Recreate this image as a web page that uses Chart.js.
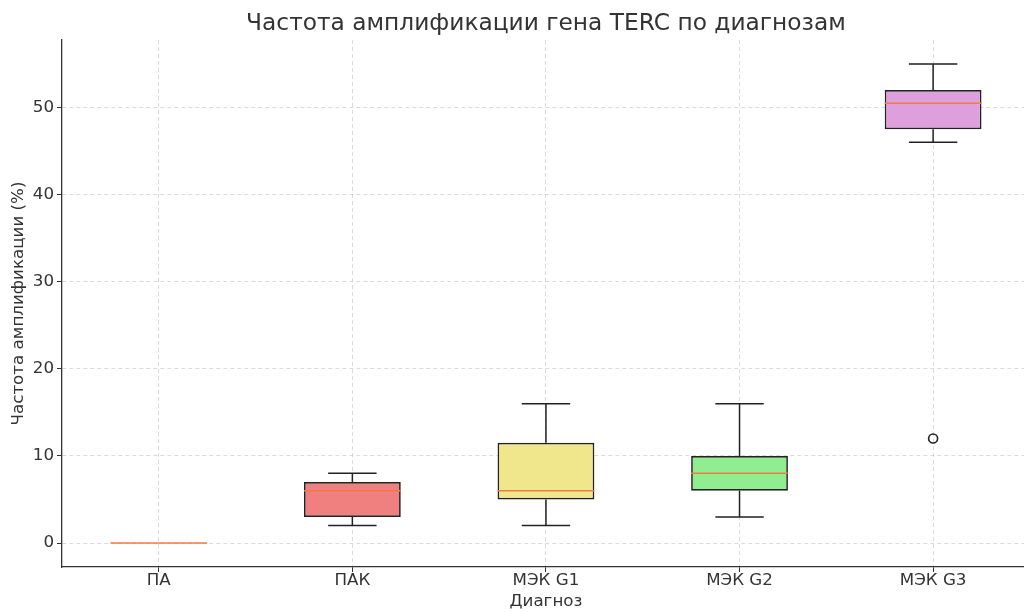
<!DOCTYPE html>
<html>
<head>
<meta charset="utf-8">
<script src="https://cdn.jsdelivr.net/npm/chart.js@4.4.1/dist/chart.umd.min.js"></script>
<style>
  html, body { margin: 0; padding: 0; background: #fff; overflow: hidden; }
  #chart { display: block; }
</style>
</head>
<body>
<canvas id="chart" width="1036" height="612"></canvas>
<script>
const diagnoses = ["ПА", "ПАК", "МЭК G1", "МЭК G2", "МЭК G3"];
const whiskerLow = [0, 2, 2, 3, 46];
const q1 = [0, 3, 5, 6, 47.5];
const medians = [0, 6, 6, 8, 50.5];
const q3 = [0, 7, 11.5, 10, 52];
const whiskerHigh = [0, 8, 16, 16, 55];
const outliers = [null, null, null, null, 12];
const boxColors = ["#ffffff", "#f08080", "#f0e68c", "#90ee90", "#dda0dd"];
const yTicks = [0, 10, 20, 30, 40, 50];

const FONT = "'DejaVu Sans', sans-serif";
const TEXT = "#333333";
const MEDIAN = "#f07a45";

// whiskers + medians on top of the boxes
const boxExtras = {
  id: "boxExtras",
  afterDatasetsDraw(chart) {
    const ctx = chart.ctx;
    const x = chart.scales.x;
    const y = chart.scales.y;
    const bars = chart.getDatasetMeta(0).data;
    ctx.save();
    ctx.lineWidth = 1.5;
    diagnoses.forEach((d, i) => {
      const cx = x.getPixelForValue(i);
      const w = bars[i].width;
      const cap = w / 4;
      if (whiskerHigh[i] !== q3[i] || whiskerLow[i] !== q1[i]) {
        ctx.strokeStyle = "#222";
        ctx.beginPath();
        ctx.moveTo(cx, y.getPixelForValue(q3[i]));
        ctx.lineTo(cx, y.getPixelForValue(whiskerHigh[i]));
        ctx.moveTo(cx - cap, y.getPixelForValue(whiskerHigh[i]));
        ctx.lineTo(cx + cap, y.getPixelForValue(whiskerHigh[i]));
        ctx.moveTo(cx, y.getPixelForValue(q1[i]));
        ctx.lineTo(cx, y.getPixelForValue(whiskerLow[i]));
        ctx.moveTo(cx - cap, y.getPixelForValue(whiskerLow[i]));
        ctx.lineTo(cx + cap, y.getPixelForValue(whiskerLow[i]));
        ctx.stroke();
      }
      ctx.strokeStyle = MEDIAN;
      ctx.beginPath();
      const my = y.getPixelForValue(medians[i]);
      ctx.moveTo(cx - w / 2, my);
      ctx.lineTo(cx + w / 2, my);
      ctx.stroke();
    });
    ctx.restore();
  }
};

new Chart(document.getElementById("chart"), {
  type: "bar",
  data: {
    labels: diagnoses,
    datasets: [
      {
        data: diagnoses.map((d, i) => [q1[i], q3[i]]),
        backgroundColor: boxColors,
        borderColor: "#222",
        borderWidth: 1.7,
        borderSkipped: false,
        barPercentage: 0.5,
        categoryPercentage: 1.0
      },
      {
        type: "line",
        data: outliers,
        showLine: false,
        pointRadius: 4.5,
        pointBorderWidth: 1.6,
        pointBackgroundColor: "rgba(0,0,0,0)",
        pointBorderColor: "#222"
      }
    ]
  },
  options: {
    responsive: false,
    animation: false,
    layout: { padding: { left: 0, right: 0, top: 0, bottom: 0 } },
    plugins: {
      legend: { display: false },
      tooltip: { enabled: false },
      title: {
        display: true,
        fullSize: false,
        text: "Частота амплификации гена TERC по диагнозам",
        color: TEXT,
        font: { family: FONT, size: 23.3, weight: "normal" },
        padding: { top: 10, bottom: 2.04 }
      }
    },
    scales: {
      x: {
        offset: true,
        afterFit(s) { s.height = 45; },
        grid: {
          offset: false,
          color: "rgba(180,180,180,0.6)",
          lineWidth: 0.8,
          tickColor: "#333",
          tickLength: 5,
          tickWidth: 1
        },
        border: { color: "#333", width: 1.3, dash: [4, 3] },
        ticks: {
          color: TEXT,
          padding: 0,
          font: { family: FONT, size: 16.7, lineHeight: 1.0 }
        },
        title: {
          display: true,
          text: "Диагноз",
          color: TEXT,
          padding: { top: 0, bottom: 0.5 },
          font: { family: FONT, size: 16.7 }
        }
      },
      y: {
        min: -2.75,
        max: 57.75,
        afterFit(s) { s.width = 62; },
        afterBuildTicks(s) { s.ticks = yTicks.map(v => ({ value: v })); },
        grid: {
          color: "rgba(180,180,180,0.6)",
          lineWidth: 0.8,
          tickColor: "#333",
          tickLength: 5,
          tickWidth: 1
        },
        border: { color: "#333", width: 1.3, dash: [4, 3] },
        ticks: {
          color: TEXT,
          padding: 3,
          font: { family: FONT, size: 16.7 }
        },
        title: {
          display: true,
          text: "Частота амплификации (%)",
          color: TEXT,
          padding: { top: 9, bottom: 0 },
          font: { family: FONT, size: 16.7 }
        }
      }
    }
  },
  plugins: [boxExtras]
});
</script>
</body>
</html>
